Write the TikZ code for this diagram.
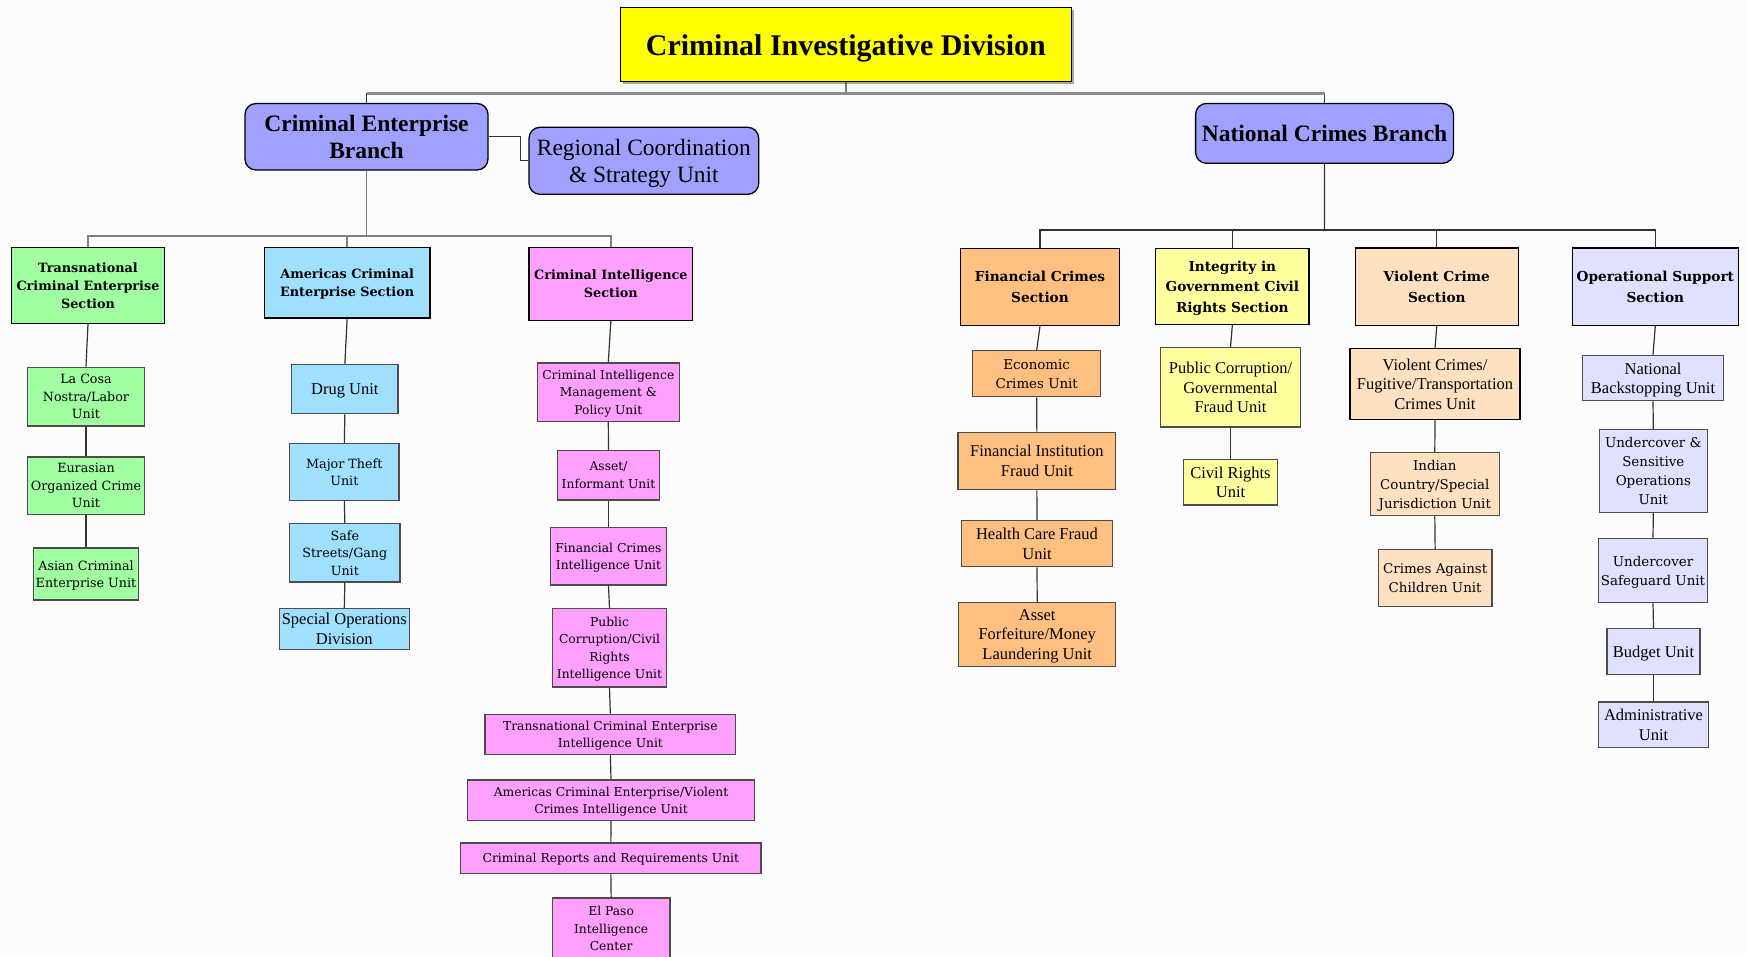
\documentclass[tikz,border=0pt]{standalone}
\usepackage{fontspec}
\setmainfont{Liberation Serif}
\newfontfamily\cent{DejaVu Serif}
\definecolor{cidyel}{HTML}{FFFF00}
\definecolor{peri}{HTML}{A0A0FF}
\definecolor{grn}{HTML}{A0FFA0}
\definecolor{lblue}{HTML}{A0E0FF}
\definecolor{pnk}{HTML}{FFA0FF}
\definecolor{orng}{HTML}{FFBF80}
\definecolor{pyel}{HTML}{FFFFA0}
\definecolor{peach}{HTML}{FFE0C0}
\definecolor{lav}{HTML}{E0E0FF}
\definecolor{bg}{HTML}{FCFCFC}
\newcommand\orgbox[7]{\node[#6, minimum width={(#4)-(#2)}, minimum height={(#5)-(#3)}] (#1) at ({((#2)+(#4))/2},{((#3)+(#5))/2}) {#7};}
\tikzset{
  boxbase/.style={rectangle, inner sep=0pt, align=center, line width=1.3pt, text depth=0pt},
  secL/.style={boxbase, draw=black, font=\cent\bfseries\fontsize{12.8}{18}\selectfont},
  secR/.style={boxbase, draw=black, font=\cent\bfseries\fontsize{13.7}{20.5}\selectfont},
  cuL/.style={boxbase, draw=black!70, font=\cent\fontsize{12.7}{17.4}\selectfont},
  cuR/.style={boxbase, draw=black!70, font=\cent\fontsize{13.4}{19}\selectfont},
  pu/.style={boxbase, draw=black!70, font=\cent\fontsize{12.3}{17.6}\selectfont},
  tu/.style={boxbase, draw=black!70, font=\fontsize{16.5}{19.5}\selectfont},
  branch/.style={boxbase, draw=black, rounded corners=11pt, fill=peri, text depth=-2pt},
  wire/.style={draw=black!80, line width=1.2pt},
  graywire/.style={draw=black!50, line width=1.6pt},
  topwire/.style={draw=black!45, line width=2.4pt},
}
\begin{document}
\begin{tikzpicture}[x=1pt,y=-1pt]
\useasboundingbox (0,0) rectangle (1747,956);
\fill[bg] (0,0) rectangle (1747,956);

% top level
\fill[black!35] (623,10.3) rectangle (1073.7,84);
\orgbox{cid}{620.6}{7.8}{1071.2}{81.5}{boxbase, draw=black, fill=cidyel, text depth=-3pt, font=\bfseries\fontsize{30}{34}\selectfont}{Criminal Investigative Division}
\orgbox{ceb}{245}{103.5}{488}{170}{branch, font=\bfseries\fontsize{23.5}{27.8}\selectfont}{Criminal Enterprise\\Branch}
\orgbox{rcs}{529}{127.3}{758.7}{194.3}{branch, font=\fontsize{23.4}{27.8}\selectfont}{Regional Coordination\\\& Strategy Unit}
\orgbox{ncb}{1195.6}{103.4}{1453.5}{163.3}{branch, font=\bfseries\fontsize{23.5}{27.8}\selectfont}{National Crimes Branch}

% Criminal Enterprise Branch sections
\orgbox{tces}{11.7}{247.3}{164.3}{323.3}{secL, fill=grn}{Transnational\\Criminal Enterprise\\Section}
\orgbox{lacosa}{27.3}{367.3}{144.7}{426}{cuL, fill=grn}{La Cosa\\Nostra/Labor\\Unit}
\orgbox{eurasian}{27.3}{457}{144.7}{514.3}{cuL, fill=grn}{Eurasian\\Organized Crime\\Unit}
\orgbox{asian}{33.7}{548}{138.3}{600}{cuL, fill=grn}{Asian Criminal\\Enterprise Unit}

\orgbox{amces}{264.3}{247.3}{430}{318}{secL, fill=lblue}{Americas Criminal\\Enterprise Section}
\orgbox{drug}{291.7}{364.7}{398}{413.7}{tu, fill=lblue}{Drug Unit}
\orgbox{theft}{289.7}{443.7}{399}{500.3}{cuL, fill=lblue}{Major Theft\\Unit}
\orgbox{safe}{289.7}{523.7}{400}{582}{cuL, fill=lblue}{Safe\\Streets/Gang\\Unit}
\orgbox{specops}{279.3}{608.4}{409.3}{649.6}{tu, fill=lblue}{Special Operations\\Division}

\orgbox{cis}{529}{247.6}{692.7}{320.3}{secL, fill=pnk}{Criminal Intelligence\\Section}
\orgbox{cimp}{537.3}{362.9}{679.3}{421.2}{pu, fill=pnk}{Criminal Intelligence\\Management \&\\Policy Unit}
\orgbox{asset}{557.3}{450.4}{659.7}{499.9}{pu, fill=pnk}{Asset/\\Informant Unit}
\orgbox{fciu}{550.3}{527.2}{666.7}{585.1}{pu, fill=pnk}{Financial Crimes\\Intelligence Unit}
\orgbox{pccr}{552.3}{608.7}{666.7}{687}{pu, fill=pnk}{Public\\Corruption/Civil\\Rights\\Intelligence Unit}
\orgbox{tceiu}{485}{714.3}{735.7}{754.5}{pu, fill=pnk}{Transnational Criminal Enterprise\\Intelligence Unit}
\orgbox{acev}{467.3}{780}{754.7}{820.3}{pu, fill=pnk}{Americas Criminal Enterprise/Violent\\Crimes Intelligence Unit}
\orgbox{crru}{460.7}{843}{761}{873.5}{pu, fill=pnk}{Criminal Reports and Requirements Unit}
\orgbox{elpaso}{552.3}{898}{670}{959}{pu, fill=pnk}{El Paso\\Intelligence\\Center}

% National Crimes Branch sections
\orgbox{fcs}{960.7}{248.3}{1119.3}{325.3}{secR, fill=orng}{Financial Crimes\\Section}
\orgbox{econ}{972.7}{350.7}{1100.7}{396.7}{cuR, fill=orng}{Economic\\Crimes Unit}
\orgbox{fifu}{958}{432.3}{1115.7}{489.7}{tu, fill=orng}{Financial Institution\\Fraud Unit}
\orgbox{hcfu}{961.3}{520.7}{1112.7}{566.7}{tu, fill=orng}{Health Care Fraud\\Unit}
\orgbox{afml}{958.7}{602.7}{1115.7}{666.3}{tu, fill=orng}{Asset\\Forfeiture/Money\\Laundering Unit}

\orgbox{igcrs}{1155.7}{248.3}{1309}{324.3}{secR, fill=pyel}{Integrity in\\Government Civil\\Rights Section}
\orgbox{pcgf}{1160.3}{347.7}{1300.7}{427}{tu, fill=pyel}{Public Corruption/\\Governmental\\Fraud Unit}
\orgbox{cru}{1183.7}{459.7}{1277.3}{505}{tu, fill=pyel}{Civil Rights\\Unit}

\orgbox{vcs}{1355.3}{247.9}{1518.3}{325.3}{secR, fill=peach}{Violent Crime\\Section}
\orgbox{vcftc}{1350}{348.6}{1520}{419.3}{tu, draw=black, fill=peach}{Violent Crimes/\\Fugitive/Transportation\\Crimes Unit}
\orgbox{icsj}{1370.3}{452.4}{1499.3}{515.6}{cuR, fill=peach}{Indian\\Country/Special\\Jurisdiction Unit}
\orgbox{cacu}{1378.3}{549.8}{1492}{606.2}{cuR, fill=peach}{Crimes Against\\Children Unit}

\orgbox{oss}{1572.3}{247.9}{1738.3}{325.3}{secR, fill=lav}{Operational Support\\Section}
\orgbox{nbu}{1582.7}{355.4}{1723.3}{400.7}{tu, fill=lav}{National\\Backstopping Unit}
\orgbox{usou}{1599.3}{429.8}{1707.3}{512.2}{cuR, fill=lav}{Undercover \&\\Sensitive\\Operations\\Unit}
\orgbox{usu}{1598.7}{538.6}{1707.3}{602.8}{cuR, fill=lav}{Undercover\\Safeguard Unit}
\orgbox{budget}{1607}{628.5}{1700}{674.8}{tu, fill=lav}{Budget Unit}
\orgbox{admin}{1598.7}{701.9}{1708.3}{747.8}{tu, fill=lav}{Administrative\\Unit}

% connectors
\coordinate (topbus) at (846,93.3);
\draw[wire] (cid.south) -- (topbus);
\draw[wire] (ceb.north) -- (ceb.north |- topbus);
\draw[wire] (ncb.north) -- (ncb.north |- topbus);
\draw[topwire] (ceb.north |- topbus) -- (ncb.north |- topbus);

\draw[wire] (ceb.east) -- ++(32,0) |- (rcs.west);

\coordinate (cebbus) at (366.5,236);
\draw[graywire] (ceb.south) -- (cebbus);
\draw[graywire] (tces.north) |- (cebbus) -| (cis.north);
\draw[graywire] (amces.north) -- (amces.north |- cebbus);

\coordinate (ncbbus) at (1324.5,230);
\draw[wire] (ncb.south) -- (ncbbus);
\draw[wire] (fcs.north) |- (ncbbus) -| (oss.north);
\draw[wire] (igcrs.north) -- (igcrs.north |- ncbbus);
\draw[wire] (vcs.north) -- (vcs.north |- ncbbus);

\foreach \a/\b in {tces/lacosa, lacosa/eurasian, eurasian/asian,
  amces/drug, drug/theft, theft/safe, safe/specops,
  cis/cimp, cimp/asset, asset/fciu, fciu/pccr, pccr/tceiu, tceiu/acev, acev/crru, crru/elpaso,
  fcs/econ, econ/fifu, fifu/hcfu, hcfu/afml,
  igcrs/pcgf, pcgf/cru,
  vcs/vcftc, vcftc/icsj, icsj/cacu,
  oss/nbu, nbu/usou, usou/usu, usu/budget, budget/admin}
  \draw[wire] (\a.south) -- (\b.north);
\end{tikzpicture}
\end{document}
